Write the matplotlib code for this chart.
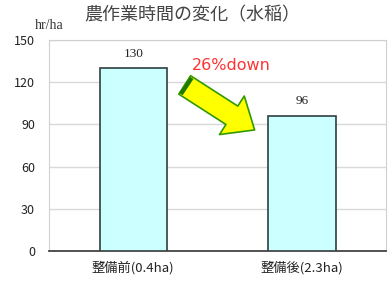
import numpy as np
import matplotlib.pyplot as plt

plt.rcParams['font.family'] = ['Noto Sans CJK JP', 'DejaVu Sans']

# data
categories = ["整備前(0.4ha)", "整備後(2.3ha)"]
hours = [130, 96]
yticks = [0, 30, 60, 90, 120, 150]

fig = plt.figure(figsize=(3.92, 2.81), dpi=100)
ax = fig.add_axes([0.125, 0.107, 0.86, 0.751])

x = np.arange(len(categories))
ax.bar(x, hours, width=0.4, color="#CCFFFF", edgecolor="#2F3F3F", linewidth=1.2, zorder=3)

for xi, h in zip(x, hours):
    ax.text(xi, h + 6, str(h), ha="center", va="bottom", fontsize=9.5,
            family=["Liberation Serif"], color="#222222")

ax.set_xlim(-0.5, 1.5)
ax.set_ylim(0, 150)
ax.set_yticks(yticks)
ax.set_xticks(x)
ax.set_xticklabels(categories, fontsize=9.5, color="#222222")
ax.tick_params(axis="both", length=0)
ax.tick_params(axis="y", labelsize=9, colors="#222222", pad=10)
ax.tick_params(axis="x", pad=7)
ax.grid(axis="y", color="#D9D9D9", linewidth=1, zorder=0)

for s in ["top", "right", "left"]:
    ax.spines[s].set_color("#D0D0D0")
ax.spines["bottom"].set_color("#444444")
ax.spines["bottom"].set_linewidth(1.3)

# arrow annotation
ax.annotate("", xy=(0.72, 86), xytext=(0.305, 118),
            arrowprops=dict(arrowstyle="simple,head_length=1.3,head_width=2.2,tail_width=1.05",
                            fc="#FFFF00", ec="#339900", lw=1.2,
                            shrinkA=0, shrinkB=0, mutation_scale=15), zorder=4)
# dark band at the tail end
ax.plot([0.305, 0.325], [118, 116.4], color="#1F7A00", lw=14, solid_capstyle="butt", zorder=5)

ax.text(0.58, 132, "26%down", color="#FF3333", fontsize=11.5, ha="center", va="center",
        family=["DejaVu Sans"])

fig.text(0.49, 0.945, "農作業時間の変化（水稲）", ha="center", va="center", fontsize=13,
         color="#444444")
fig.text(0.125, 0.91, "hr/ha", ha="center", va="center", fontsize=10,
         family=["Liberation Serif"], color="#333333")

fig.savefig("out.png", dpi=100)
